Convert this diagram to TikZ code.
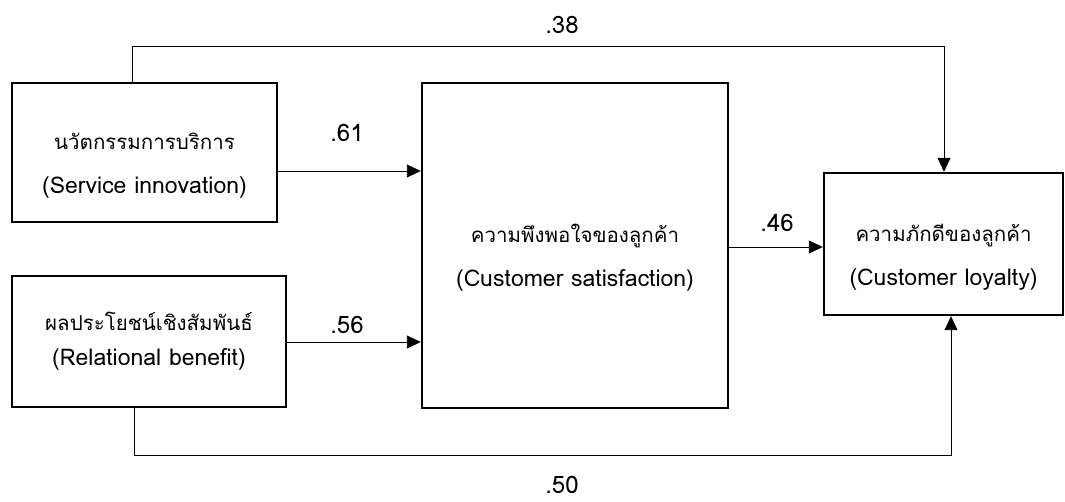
\documentclass[tikz,border=0pt]{standalone}
\usepackage{fontspec}
\setmainfont[Script=Thai]{Loma}
\usetikzlibrary{arrows.meta}
\newcommand\eng[1]{{\fontsize{23}{44}\selectfont #1}}
\newcommand\lowstrut{\rule{0pt}{43pt}}
\tikzset{
  varbox/.style = {draw = black, line width = 2.4pt, align = center, inner sep = 0pt, font = \fontsize{20.5}{44}\selectfont},
  link/.style = {draw = black, line width = 0.9pt},
  arr/.style = {link, -{Triangle[length = 14pt, width = 13pt]}},
  coef/.style = {inner sep = 0pt, font = \fontsize{24}{26}\selectfont}
}
\begin{document}
\begin{tikzpicture}[x = 1pt, y = -1pt]
\useasboundingbox (0,0) rectangle (1065,502);
% variables
\node[varbox, minimum width = 265, minimum height = 139] (innov) at (144.5,152.5) {\lowstrut นวัตกรรมการบริการ\\\eng{(Service innovation)}};
\node[varbox, minimum width = 274, minimum height = 131] (relat) at (149,341.5) {ผลประโยชน์เชิงสัมพันธ์\\[-9pt]\eng{(Relational benefit)}};
\node[varbox, minimum width = 306, minimum height = 325] (satis) at (575,245.5) {\lowstrut ความพึงพอใจของลูกค้า\\\eng{(Customer satisfaction)}};
\node[varbox, minimum width = 239, minimum height = 142] (loyal) at (943.5,244) {\lowstrut ความภักดีของลูกค้า\\\eng{(Customer loyalty)}};
% paths
\draw[arr] (innov.east |- 0,171) -- (satis.west |- 0,171);
\draw[arr] (relat.east |- 0,342) -- (satis.west |- 0,342);
\draw[arr] (satis.east |- 0,247) -- (loyal.west |- 0,247);
\draw[arr] (innov.north -| 132,0) -- ++(0,-35) -| (loyal.north -| 944,0);
\draw[arr] (relat.south -| 134,0) -- ++(0,47) -| (loyal.south -| 951,0);
% coefficients
\node[coef] (c61) at (347,133) {.61};
\node[coef] (c56) at (347,325) {.56};
\node[coef] (c46) at (777,223) {.46};
\node[coef] (c38) at (562,25) {.38};
\node[coef] (c50) at (562,485) {.50};
\end{tikzpicture}
\end{document}
